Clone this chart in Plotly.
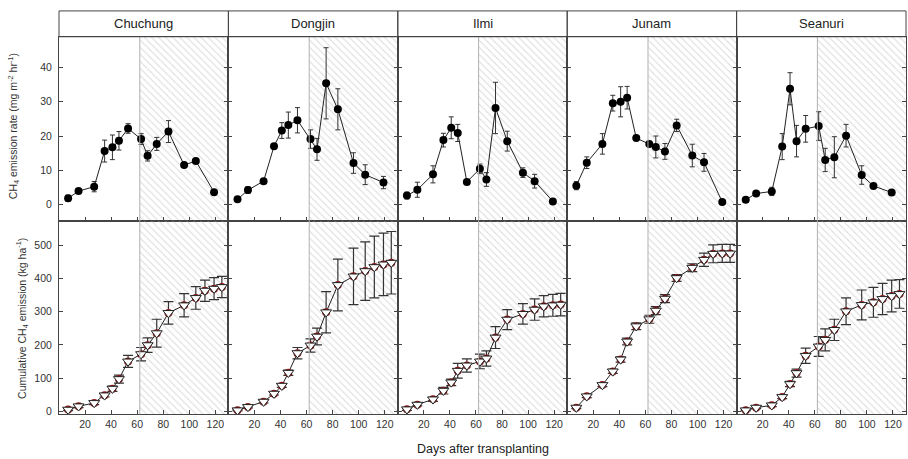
import plotly.graph_objects as go

# ---------------- data ----------------
cultivars = ["Chuchung", "Dongjin", "Ilmi", "Junam", "Seanuri"]

days_rate = [7, 15, 27, 35, 41, 46, 53, 63, 68, 75, 84, 96, 105, 119]
days_cum = [7, 15, 27, 35, 41, 46, 53, 63, 68, 75, 84, 96, 105, 112, 119, 125]

rate_chuchung = [1.8, 3.9, 5.2, 15.6, 16.7, 18.6, 22.2, 19.1, 14.2, 17.7, 21.3, 11.5, 12.7, 3.6]
rate_err_chuchung = [0.9, 0.4, 1.5, 3.2, 3.6, 2.7, 1.4, 1.6, 1.5, 1.9, 3.2, 0.5, 0.5, 0.4]
rate_dongjin = [1.5, 4.2, 6.8, 17.0, 21.6, 23.2, 24.6, 19.1, 16.1, 35.4, 27.8, 12.1, 8.7, 6.4]
rate_err_dongjin = [0.5, 1.0, 0.5, 0.6, 2.3, 3.8, 3.7, 2.7, 3.2, 10.4, 6.0, 3.0, 2.9, 1.8]
rate_ilmi = [2.6, 4.3, 8.8, 18.8, 22.4, 20.9, 6.6, 10.4, 7.3, 28.2, 18.5, 9.3, 6.8, 0.9]
rate_err_ilmi = [1.0, 2.2, 2.5, 2.0, 3.2, 2.5, 0.5, 1.4, 2.0, 7.5, 2.9, 1.4, 2.0, 0.3]
rate_junam = [5.5, 12.2, 17.7, 29.6, 30.0, 31.2, 19.4, 17.7, 16.8, 15.5, 23.1, 14.3, 12.3, 0.7]
rate_err_junam = [1.2, 1.7, 3.0, 2.3, 4.4, 3.3, 0.5, 0.5, 3.2, 2.3, 1.8, 3.3, 2.6, 0.3]
rate_seanuri = [1.4, 3.2, 3.8, 16.9, 33.8, 18.5, 22.1, 22.9, 13.0, 13.8, 20.1, 8.6, 5.4, 3.5]
rate_err_seanuri = [0.3, 0.5, 1.2, 3.8, 4.7, 4.6, 3.9, 4.2, 3.4, 6.0, 3.3, 2.7, 0.5, 0.4]

cum_chuchung = [5, 15, 25, 48, 68, 97, 150, 172, 199, 235, 296, 319, 341, 363, 369, 374]
cum_err_chuchung = [3, 4, 5, 5, 8, 12, 18, 20, 22, 42, 34, 35, 34, 32, 33, 32]
cum_dongjin = [3, 13, 29, 53, 77, 116, 175, 198, 225, 298, 380, 406, 422, 434, 442, 447]
cum_err_dongjin = [2, 3, 4, 4, 5, 8, 17, 20, 25, 62, 78, 85, 88, 93, 94, 94]
cum_ilmi = [6, 20, 36, 62, 87, 122, 138, 150, 159, 222, 276, 293, 306, 316, 319, 321]
cum_err_ilmi = [3, 4, 6, 10, 10, 22, 20, 22, 23, 33, 30, 31, 32, 32, 33, 34]
cum_junam = [11, 45, 79, 120, 156, 210, 256, 277, 303, 339, 401, 432, 456, 474, 475, 475]
cum_err_junam = [3, 4, 5, 6, 8, 10, 10, 12, 12, 12, 10, 12, 20, 27, 27, 27]
cum_seanuri = [3, 11, 18, 43, 82, 115, 167, 195, 215, 245, 301, 320, 328, 338, 347, 353]
cum_err_seanuri = [2, 3, 4, 5, 8, 12, 23, 30, 33, 32, 40, 45, 45, 47, 48, 43]

x_ticks = [20, 40, 60, 80, 100, 120]
rate_ticks = [0, 10, 20, 30, 40]
cum_ticks = [0, 100, 200, 300, 400, 500]
drain_day = 62  # start of hatched (drainage) period

rates = [rate_chuchung, rate_dongjin, rate_ilmi, rate_junam, rate_seanuri]
rate_errs = [rate_err_chuchung, rate_err_dongjin, rate_err_ilmi, rate_err_junam, rate_err_seanuri]
cums = [cum_chuchung, cum_dongjin, cum_ilmi, cum_junam, cum_seanuri]
cum_errs = [cum_err_chuchung, cum_err_dongjin, cum_err_ilmi, cum_err_junam, cum_err_seanuri]

# ---------------- layout geometry ----------------
W, H = 908, 459
LEFT, RIGHT = 59, 906
STRIP_TOP, TOP_Y0, MID_Y, BOT_Y1 = 11, 37, 222, 417
PW = (RIGHT - LEFT) / 5
X_RANGE = [0, 130]
RATE_RANGE = [-4.7, 49]
CUM_RANGE = [-9, 574]

FONT = "Liberation Sans, Arial, sans-serif"
FRAME = "#444444"
TXT = "#333333"


def py(v):
    return 1 - v / H


fig = go.Figure()
layout = {}
shapes = []
annotations = []

for i, name in enumerate(cultivars):
    x0 = (LEFT + i * PW) / W
    x1 = (LEFT + (i + 1) * PW) / W
    for row in (0, 1):
        k = i + 1 + 5 * row
        xa = "x" if k == 1 else f"x{k}"
        ya = "y" if k == 1 else f"y{k}"
        yr = RATE_RANGE if row == 0 else CUM_RANGE
        # hatched drainage region
        fig.add_trace(go.Scatter(
            x=[drain_day, X_RANGE[1], X_RANGE[1], drain_day, drain_day],
            y=[yr[0], yr[0], yr[1], yr[1], yr[0]],
            fill="toself", mode="none",
            fillcolor="rgba(0,0,0,0)",
            fillpattern=dict(shape="\\", fgcolor="#b4b4b4", bgcolor="rgba(0,0,0,0)",
                             size=5, solidity=0.2),
            xaxis=xa, yaxis=ya, showlegend=False, hoverinfo="skip"))
        shapes.append(dict(type="line", xref=xa, yref=f"{ya} domain",
                           x0=drain_day, x1=drain_day, y0=0, y1=1,
                           line=dict(color="#b0b0b0", width=1), layer="above"))
        if row == 0:
            fig.add_trace(go.Scatter(
                x=days_rate, y=rates[i], mode="lines+markers",
                line=dict(color="#222222", width=1),
                marker=dict(symbol="circle", size=8, color="black"),
                error_y=dict(type="data", array=rate_errs[i], color="#333333",
                             thickness=1, width=2.5),
                xaxis=xa, yaxis=ya, showlegend=False))
        else:
            fig.add_trace(go.Scatter(
                x=days_cum, y=cums[i], mode="lines+markers",
                line=dict(color="#222222", width=1),
                marker=dict(symbol="circle", size=8, color="#8b1a1a"),
                error_y=dict(type="data", array=cum_errs[i], color="#333333",
                             thickness=1.2, width=5),
                xaxis=xa, yaxis=ya, showlegend=False))
            fig.add_trace(go.Scatter(
                x=days_cum, y=cums[i], mode="markers",
                marker=dict(symbol="triangle-down", size=9.5, color="white",
                            line=dict(color="#222222", width=1)),
                xaxis=xa, yaxis=ya, showlegend=False))
        yd = [py(MID_Y), py(TOP_Y0)] if row == 0 else [py(BOT_Y1), py(MID_Y)]
        layout["xaxis" if k == 1 else f"xaxis{k}"] = dict(
            domain=[x0, x1], range=X_RANGE, anchor=ya,
            tickvals=x_ticks, ticks="inside", ticklen=4, tickcolor=FRAME,
            showticklabels=(row == 1), showline=True, linecolor=FRAME, linewidth=1,
            mirror=True, showgrid=False, zeroline=False,
            tickfont=dict(family=FONT, size=10.5, color=TXT))
        layout["yaxis" if k == 1 else f"yaxis{k}"] = dict(
            domain=yd, range=yr, anchor=xa,
            tickvals=rate_ticks if row == 0 else cum_ticks,
            ticks="inside", ticklen=4, tickcolor=FRAME,
            showticklabels=(i == 0), showline=True, linecolor=FRAME, linewidth=1,
            mirror="ticks", showgrid=False, zeroline=False, ticklabelstandoff=4,
            tickfont=dict(family=FONT, size=10.5, color=TXT))
    # title strip
    shapes.append(dict(type="rect", xref="paper", yref="paper",
                       x0=x0, x1=x1, y0=py(TOP_Y0), y1=py(STRIP_TOP),
                       line=dict(color=FRAME, width=1), fillcolor="rgba(0,0,0,0)"))
    annotations.append(dict(text=name, xref="paper", yref="paper",
                            x=(x0 + x1) / 2, y=py((STRIP_TOP + TOP_Y0) / 2),
                            showarrow=False, xanchor="center", yanchor="middle",
                            font=dict(family=FONT, size=13, color="#222222")))

annotations.append(dict(text="CH<sub>4</sub> emission rate (mg m<sup>-2</sup> hr<sup>-1</sup>)",
                        xref="paper", yref="paper", x=14 / W, y=py(127),
                        textangle=-90, showarrow=False, xanchor="center", yanchor="middle",
                        font=dict(family=FONT, size=10.5, color=TXT)))
annotations.append(dict(text="Cumulative CH<sub>4</sub> emission (kg ha<sup>-1</sup>)",
                        xref="paper", yref="paper", x=22 / W, y=py(321),
                        textangle=-90, showarrow=False, xanchor="center", yanchor="middle",
                        font=dict(family=FONT, size=10.5, color=TXT)))
annotations.append(dict(text="Days after transplanting", xref="paper", yref="paper",
                        x=(LEFT + RIGHT) / 2 / W, y=py(451.5), showarrow=False,
                        xanchor="center", yanchor="middle",
                        font=dict(family=FONT, size=12.5, color="#222222")))

fig.update_layout(
    width=W, height=H, margin=dict(l=0, r=0, t=0, b=0),
    paper_bgcolor="white", plot_bgcolor="white",
    shapes=shapes, annotations=annotations, showlegend=False,
    hovermode=False,
    **layout)

fig.write_html(
    "out.html",
    config={"displayModeBar": False, "staticPlot": True},
    post_script="document.body.style.margin='0';document.body.style.overflow='hidden';",
)
